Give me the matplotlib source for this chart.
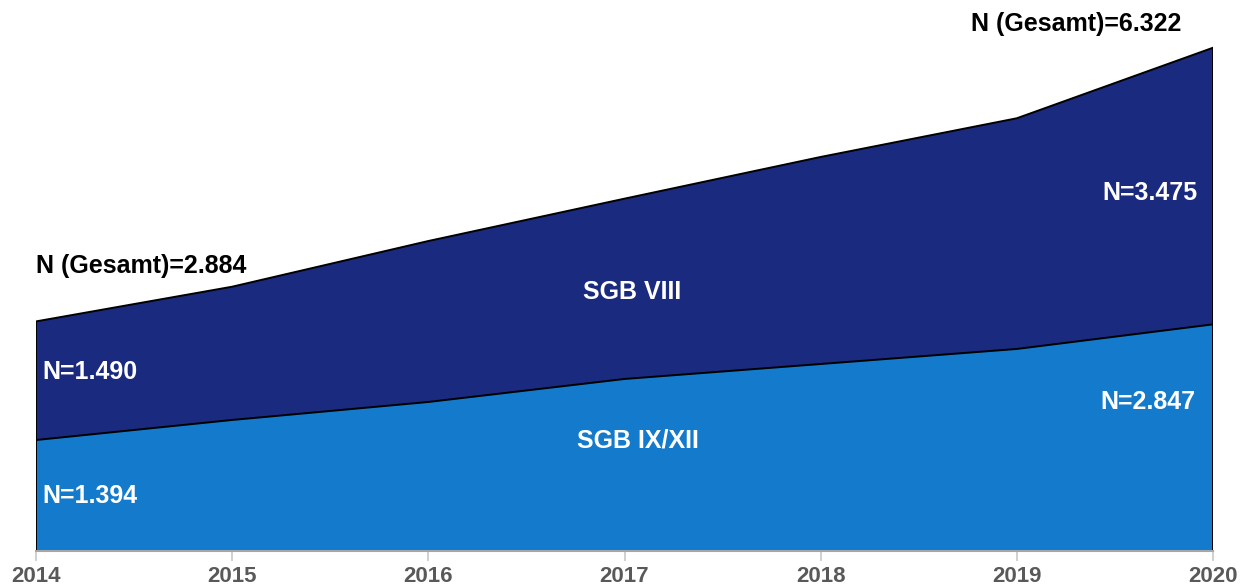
import matplotlib
matplotlib.use("Agg")
import matplotlib.pyplot as plt

plt.rcParams["font.family"] = ["Liberation Sans", "DejaVu Sans"]

years = [2014, 2015, 2016, 2017, 2018, 2019, 2020]
sgb_ix_xii = [1394, 1646, 1872, 2161, 2349, 2538, 2847]
sgb_viii = [1490, 1674, 2022, 2265, 2601, 2898, 3475]
year_labels = ["2014", "2015", "2016", "2017", "2018", "2019", "2020"]

navy = "#1a2a7f"
blue = "#137acc"

total = [a + b for a, b in zip(sgb_ix_xii, sgb_viii)]

fig = plt.figure(figsize=(12.4, 5.88), dpi=100)
ax = fig.add_axes([0.02903, 0.06293, 0.9492, 0.9206])

ax.fill_between(years, 0, sgb_ix_xii, facecolor=blue, edgecolor="none", zorder=1)
ax.fill_between(years, sgb_ix_xii, total, facecolor=navy, edgecolor="none", zorder=1)
ax.plot(years, sgb_ix_xii, color="black", lw=1.4, zorder=3)
ax.plot(years, total, color="black", lw=1.4, zorder=3)
ax.vlines([years[0], years[-1]], 0, [total[0], total[-1]], color="black", lw=1.4, zorder=3)

ax.set_xlim(years[0], years[-1])
ax.set_ylim(0, 6800)

for s in ["top", "right", "left"]:
    ax.spines[s].set_visible(False)
ax.spines["bottom"].set_color("#a6a6a6")
ax.spines["bottom"].set_linewidth(1.5)
ax.spines["bottom"].set_zorder(4)
ax.set_yticks([])
ax.set_xticks(years)
ax.set_xticklabels(year_labels, fontsize=16, fontweight="bold", color="#595959")
ax.tick_params(axis="x", length=7, width=1.2, color="#c8c8c8", pad=4)
for lbl in ax.get_xticklabels():
    lbl.set_clip_on(False)

bold = dict(fontweight="bold", fontsize=18)

def fmt(v):
    return f"{v:,}".replace(",", ".")

ax.text(years[0], 3575, f"N (Gesamt)={fmt(total[0])}", ha="left", va="center",
        color="black", **bold)
ax.text(2019.30, 6620, f"N (Gesamt)={fmt(total[-1])}", ha="center", va="center",
        color="black", clip_on=False, **bold)
ax.text(2014.034, 2250, f"N={fmt(sgb_viii[0])}", ha="left", va="center", color="white", **bold)
ax.text(2014.034, 690, f"N={fmt(sgb_ix_xii[0])}", ha="left", va="center", color="white", **bold)
ax.text(2019.92, 4500, f"N={fmt(sgb_viii[-1])}", ha="right", va="center", color="white", **bold)
ax.text(2019.91, 1866, f"N={fmt(sgb_ix_xii[-1])}", ha="right", va="center", color="white", **bold)
ax.text(2017.04, 3255, "SGB VIII", ha="center", va="center", color="white", **bold)
ax.text(2017.07, 1384, "SGB IX/XII", ha="center", va="center", color="white", **bold)

fig.savefig("out.png", dpi=100)
